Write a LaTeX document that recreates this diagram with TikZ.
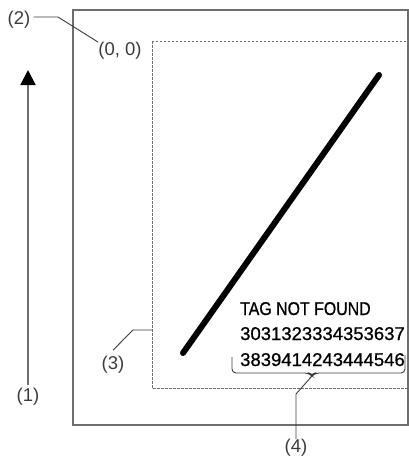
\documentclass[tikz,border=0pt]{standalone}
\usepackage{fontspec}
\setmainfont{Liberation Sans}
\newfontfamily\datafont[FakeBold=0.8]{Liberation Sans}
\usetikzlibrary{arrows.meta,positioning}
\definecolor{framegray}{HTML}{6E6E6E}
\definecolor{leadgray}{HTML}{3C3C3C}

\begin{document}
\begin{tikzpicture}[x=1pt, y=-1pt,
  lbl/.style={inner sep=0pt, font=\fontsize{18.5}{20}\selectfont, text=leadgray},
  dat/.style={inner sep=0pt, anchor=base west, font=\datafont\fontsize{18.5}{20}\selectfont, text=black},
  lead/.style={leadgray, line width=0.9pt},
  arr/.style={-{Triangle[length=15pt, width=15pt, color=black]}, line width=1.8pt, framegray}
]
  \useasboundingbox (0,0) rectangle (409,464);

  % screen area and print area
  \draw[framegray, line width=1.6pt] (73,10) rectangle (408,425);
  \draw[framegray, line width=0.8pt, dash pattern=on 2.5pt off 1.5pt] (152,41) rectangle (408,388);

  % printed data
  \draw[line width=6pt, line cap=round] (183,353) -- (379,75);
  \node[dat] (tag) at (240,315) {\scalebox{0.86}[1]{TAG NOT FOUND}};
  \node[dat] (rowa) at (240,340) {3031323334353637};
  \node[dat] (rowb) at (240,366) {3839414243444546};
  \draw[lead, rounded corners=4pt] (232,357) -- (232,373) -- (309,373)
    -- (312,376) coordinate (tip) -- (315,373) -- (405,373) -- (405,355);

  % labels
  \node[lbl] (one) at (28,397) {(1)};
  \node[lbl] (two) at (19,20) {(2)};
  \node[lbl] (origin) at (120,51) {(0, 0)};
  \node[lbl] (three) at (113,365) {(3)};
  \node[lbl] (four) at (296,448) {(4)};

  \coordinate (twoa) at (58,17);
  \coordinate (threea) at (133,330);
  \coordinate (threeb) at (152,330);
  \coordinate (foura) at (296,394);

  \draw[arr] (one.north) ++(0,-3) -- (28,70);
  \draw[lead] (two.east) ++(3,-3) -- (twoa) -- (origin.north west);
  \draw[lead] (three.north) ++(0,-6) -- (threea) -- (threeb);
  \draw[lead] (tip) -- (foura) -- (four.north);
\end{tikzpicture}
\end{document}
